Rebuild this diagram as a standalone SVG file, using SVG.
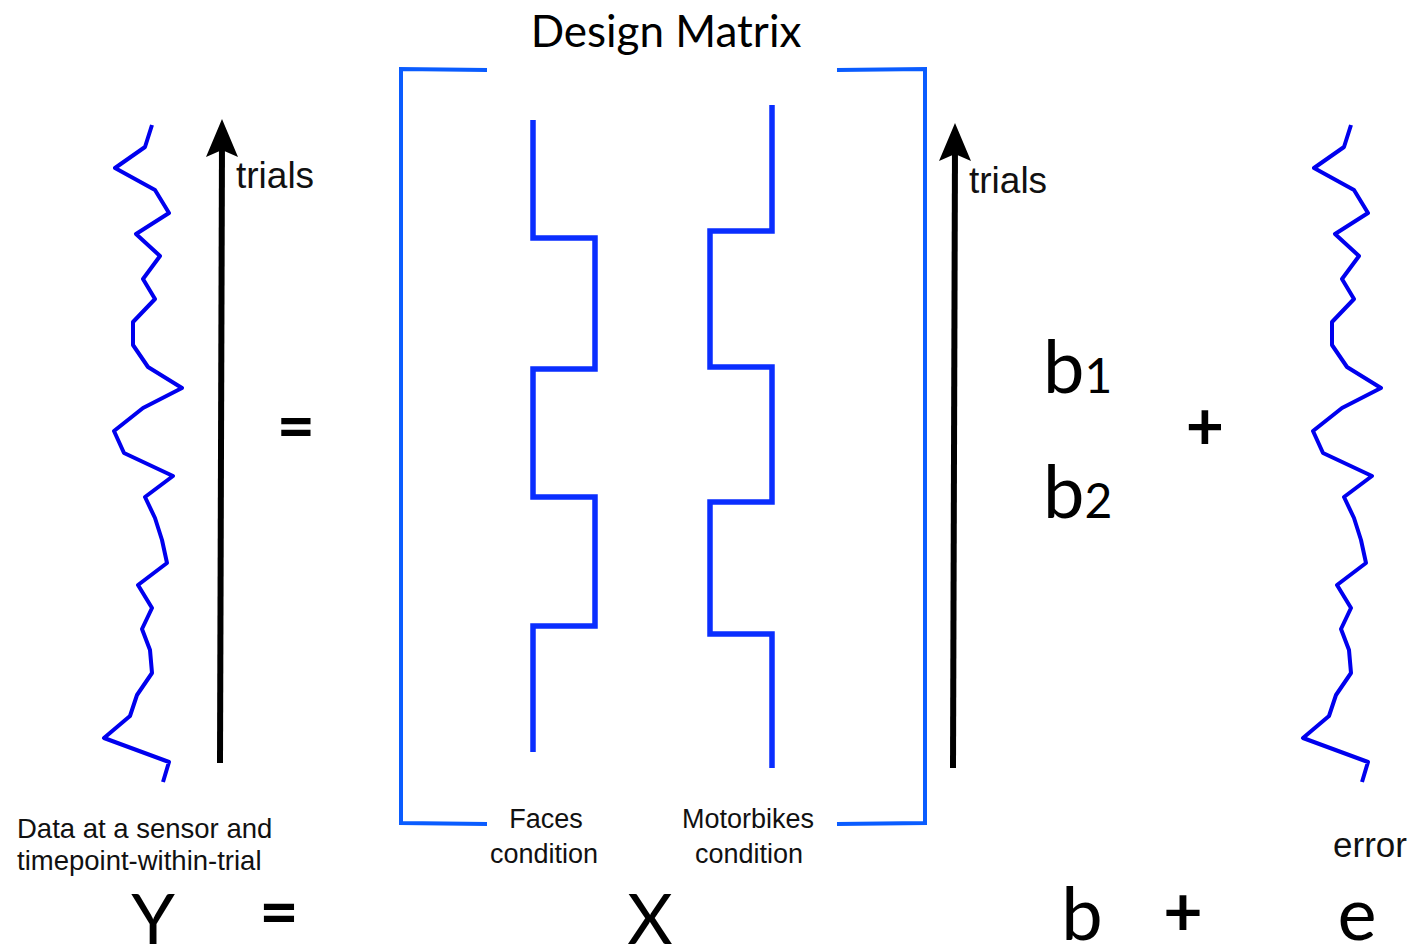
<svg xmlns="http://www.w3.org/2000/svg" width="1409" height="949" viewBox="0 0 1409 949">
<defs>
<style>
.sq{fill:none;stroke:#0000ee;stroke-width:4;stroke-linejoin:round;stroke-linecap:butt}
.br{fill:none;stroke:#0a5cff;stroke-width:4}
.st{fill:none;stroke:#0a2eff;stroke-width:5.5;stroke-linejoin:miter}
.ax{fill:none;stroke:#000;stroke-width:6}
.lab{font-family:"Liberation Sans",Arial,sans-serif;fill:#111}
.gs{font-family:Lato,"Open Sans",sans-serif;fill:#000}
</style>
</defs>
<rect width="1409" height="949" fill="#fff"/>

<g id="title"><text class="gs" x="666" y="47" font-size="44" text-anchor="middle">Design Matrix</text></g>

<g id="data-Y">
<polyline class="sq" points="152,125 145,147 115,168 155,190 169,213 136,234 160,256 143,279 155,299 133,322 133,345 148,367 182,388 143,408 114,431 124,453 173,476 145,497 155,518 162,540 167,563 138,585 152,608 142,629 150,650 152,673 137,695 130,716 104,738 169,762 163,782"/>
</g>

<g id="error-e">
<polyline class="sq" transform="translate(1199,0)" points="152,125 145,147 115,168 155,190 169,213 136,234 160,256 143,279 155,299 133,322 133,345 148,367 182,388 143,408 114,431 124,453 173,476 145,497 155,518 162,540 167,563 138,585 152,608 142,629 150,650 152,673 137,695 130,716 104,738 169,762 163,782"/>
</g>

<g id="connectors">
<line class="ax" x1="220" y1="763" x2="222" y2="140"/>
<path d="M222,119 L238,157 L222,150 L206,157 Z" fill="#000"/>
<line class="ax" x1="953" y1="768" x2="955" y2="145"/>
<path d="M955,123 L971,161 L955,154 L939,161 Z" fill="#000"/>
</g>

<g id="trials-left"><text class="lab" x="236" y="188" font-size="37">trials</text></g>
<g id="trials-right"><text class="lab" x="969" y="193" font-size="37">trials</text></g>

<g id="design-matrix">
<polyline class="br" points="487,70 401,69 401,823 487,824"/>
<polyline class="br" points="837,70 925,69 925,823 837,824"/>
<polyline class="st" points="533,120 533,238 595,238 595,369 533,369 533,497 595,497 595,626 533,626 533,752"/>
<polyline class="st" points="772,105 772,231 710,231 710,367 772,367 772,502 710,502 710,634 772,634 772,768"/>
</g>

<g id="faces-label"><text class="lab" font-size="27" text-anchor="middle"><tspan x="546" y="828">Faces</tspan><tspan x="544" y="863">condition</tspan></text></g>
<g id="motorbikes-label"><text class="lab" font-size="27" text-anchor="middle"><tspan x="748" y="828">Motorbikes</tspan><tspan x="749" y="863">condition</tspan></text></g>

<g id="eq-mid"><text class="gs" x="296" y="450" font-size="66" font-weight="bold" text-anchor="middle">=</text></g>
<g id="b-vector">
<text class="gs" x="1043" y="393" font-size="74">b<tspan font-size="48">1</tspan></text>
<text class="gs" x="1043" y="518" font-size="74">b<tspan font-size="48">2</tspan></text>
</g>
<g id="plus-mid"><text class="gs" x="1205" y="450" font-size="66" font-weight="bold" text-anchor="middle">+</text></g>

<g id="data-label"><text class="lab" font-size="27.5"><tspan x="17" y="838">Data at a sensor and</tspan><tspan x="17" y="870">timepoint-within-trial</tspan></text></g>
<g id="error-label"><text class="lab" x="1407" y="857" font-size="35" text-anchor="end">error</text></g>

<g id="equation">
<text class="gs" x="153" y="944" font-size="70" text-anchor="middle">Y</text>
<text class="gs" x="279" y="936" font-size="68" font-weight="bold" text-anchor="middle">=</text>
<text class="gs" x="650" y="944" font-size="70" text-anchor="middle">X</text>
<text class="gs" x="1082" y="940" font-size="74" text-anchor="middle">b</text>
<text class="gs" x="1183" y="936" font-size="68" font-weight="bold" text-anchor="middle">+</text>
<text class="gs" x="1357" y="940" font-size="74" text-anchor="middle">e</text>
</g>
</svg>
